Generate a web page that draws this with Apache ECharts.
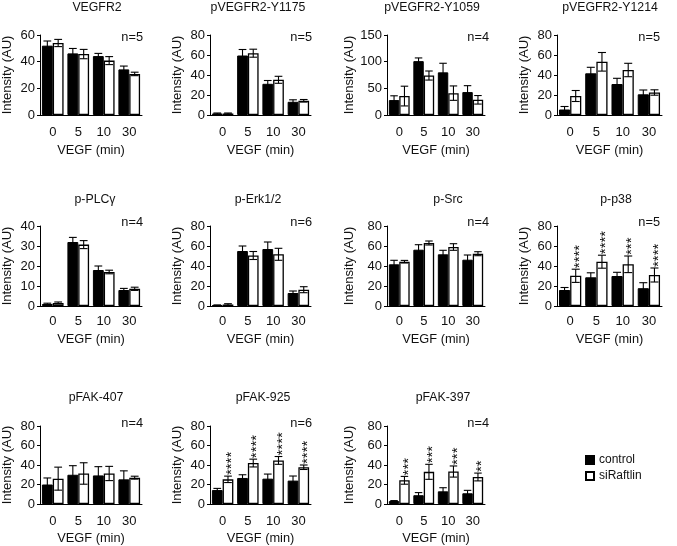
<!DOCTYPE html>
<html>
<head>
<meta charset="utf-8">
<script src="https://cdn.jsdelivr.net/npm/echarts@6/dist/echarts.min.js"></script>
<style>
html,body{margin:0;padding:0;background:#fff;}
#c{width:677px;height:546px;}
</style>
</head>
<body>
<div id="c"></div>
<script>
// ---------- data ----------
const categories = ['0', '5', '10', '30'];
const panelTitles = ['VEGFR2', 'pVEGFR2-Y1175', 'pVEGFR2-Y1059', 'pVEGFR2-Y1214',
  'p-PLCγ', 'p-Erk1/2', 'p-Src', 'p-p38', 'pFAK-407', 'pFAK-925', 'pFAK-397'];
const nLabels = ['n=5', 'n=5', 'n=4', 'n=5', 'n=4', 'n=6', 'n=4', 'n=5', 'n=4', 'n=6', 'n=4'];
const yMax = [60, 80, 150, 80, 40, 80, 80, 80, 80, 80, 80];
const yStep = [20, 20, 50, 20, 10, 20, 20, 20, 20, 20, 20];
const seriesNames = ['control', 'siRaftlin'];
const controlMean = [
  [52, 46.2, 44.2, 34.2],
  [1.5, 59.5, 31.2, 13.2],
  [28, 101, 80, 43],
  [5.5, 41.7, 31, 20.7],
  [1, 32, 18, 8],
  [0.8, 55, 57, 13],
  [41.7, 56.3, 51.7, 46.3],
  [16, 28.7, 30, 17.8],
  [20, 30, 29.3, 25.3],
  [14.3, 26.7, 26, 24],
  [3, 9, 13, 11]
];
const controlErr = [
  [3.5, 3.7, 2, 2.5],
  [0.5, 6, 3.3, 2],
  [8, 6, 17, 12],
  [3, 6, 5.7, 4.3],
  [0.4, 2.3, 2, 0.8],
  [0.3, 5, 7, 2],
  [4, 5, 4, 4.7],
  [2.5, 4.5, 3.7, 5.5],
  [6.7, 9.3, 9, 8.7],
  [1.7, 3.3, 4.7, 4.7],
  [0.5, 2.7, 3.7, 3]
];
const siMean = [
  [54, 45.7, 40.8, 30.8],
  [1.5, 61.8, 35.2, 14.2],
  [35.5, 74, 41, 28.5],
  [19, 53.2, 45, 22.5],
  [1.5, 30.7, 17, 8.6],
  [1.5, 50.5, 51.7, 16.3],
  [44.3, 63, 59, 52.3],
  [30.2, 44.3, 41.7, 31],
  [26, 31.3, 31.3, 27],
  [25.3, 42, 44.7, 37.7],
  [24.3, 33, 33.3, 27.7]
];
const siErr = [
  [2.7, 3.5, 3, 1.3],
  [0.5, 4, 3.5, 1.3],
  [18.5, 8.5, 13.5, 8],
  [5.5, 9.3, 6.7, 2.7],
  [0.5, 2, 0.9, 0.8],
  [0.8, 4, 6, 3],
  [1.3, 2, 3.3, 2],
  [6.6, 6.5, 8.3, 7],
  [11.8, 11, 7.3, 1.5],
  [3.3, 4, 4, 2.3],
  [4, 7.7, 5.7, 4]
];
const siStars = [
  [0, 0, 0, 0], [0, 0, 0, 0], [0, 0, 0, 0], [0, 0, 0, 0],
  [0, 0, 0, 0], [0, 0, 0, 0], [0, 0, 0, 0], [4, 4, 3, 4],
  [0, 0, 0, 0], [4, 4, 4, 4], [3, 3, 3, 2]
];
const xAxisName = 'VEGF (min)';
const yAxisName = 'Intensity (AU)';

// ---------- layout (positions only) ----------
const rowTop = [35, 226, 426];
const rowH = 80;
const colLeft = [40, 210, 387, 557];
const colW = [102, 101, 98, 105];
const titleX = [97, 258, 432, 610, 95, 258, 448, 616, 96, 263, 443];
const titleY = [8, 200, 398];
const nRight = [143, 312, 489, 660];
const nY = [37, 222, 423];
const yNameGap = [26, 26, 31, 26];
const xNameGap = [29, 27, 28];
const xLabelMargin = [11, 9, 11];
const CAT_GAP = 0.15;
const FONT = '"Liberation Sans", Arial, Helvetica, sans-serif';
const TXT = '#111';

const grids = [], xAxes = [], yAxes = [], series = [], graphics = [];

function errRender(side) {
  return function (params, api) {
    const j = api.value(0), m = api.value(1), e = api.value(2);
    const c = api.coord([j, m]);
    const band = api.size([1, 0])[0];
    const bw = band * (1 - CAT_GAP) / 2;
    const x = c[0] + side * bw / 2;
    const yt = api.coord([j, m + e])[1];
    const yb = api.coord([j, Math.max(m - e, 0)])[1];
    const cap = bw * 0.36;
    const st = { stroke: '#000', lineWidth: 1.1 };
    return {
      type: 'group',
      children: [
        { type: 'line', shape: { x1: x, y1: yt, x2: x, y2: yb }, style: st },
        { type: 'line', shape: { x1: x - cap, y1: yt, x2: x + cap, y2: yt }, style: st },
        { type: 'line', shape: { x1: x - cap, y1: yb, x2: x + cap, y2: yb }, style: st }
      ]
    };
  };
}

function starRender(params, api) {
  const j = api.value(0), top = api.value(1), n = api.value(2);
  if (!n) return null;
  const c = api.coord([j, top]);
  const band = api.size([1, 0])[0];
  const bw = band * (1 - CAT_GAP) / 2;
  const x = c[0] + bw / 2;
  return {
    type: 'text',
    x: x + 4,
    y: c[1] - 1,
    rotation: Math.PI / 2,
    style: {
      text: '*'.repeat(n),
      fill: '#111',
      font: '15px ' + FONT,
      textAlign: 'left',
      textVerticalAlign: 'middle'
    }
  };
}

for (let i = 0; i < panelTitles.length; i++) {
  const row = Math.floor(i / 4), col = i % 4;
  grids.push({ left: colLeft[col], top: rowTop[row], width: colW[col], height: rowH, containLabel: false });
  xAxes.push({
    type: 'category', gridIndex: i, data: categories,
    axisLine: { lineStyle: { color: '#000', width: 1 } },
    axisTick: { show: false },
    axisLabel: { color: TXT, fontSize: 13, fontFamily: FONT, margin: xLabelMargin[row] },
    name: xAxisName, nameLocation: 'middle', nameGap: xNameGap[row],
    nameTextStyle: { color: TXT, fontSize: 12.8, fontFamily: FONT }
  });
  yAxes.push({
    type: 'value', gridIndex: i, min: 0, max: yMax[i], interval: yStep[i],
    axisLine: { show: true, lineStyle: { color: '#000', width: 1 } },
    axisTick: { show: true, length: 3, lineStyle: { color: '#000' } },
    splitLine: { show: false },
    axisLabel: { color: TXT, fontSize: 13, fontFamily: FONT, margin: 5 },
    name: yAxisName, nameLocation: 'middle', nameGap: yNameGap[col], nameRotate: 90,
    nameTextStyle: { color: TXT, fontSize: 13, fontFamily: FONT }
  });
  series.push({
    name: seriesNames[0], type: 'bar', xAxisIndex: i, yAxisIndex: i,
    data: controlMean[i], barGap: '0%', barCategoryGap: (CAT_GAP * 100) + '%',
    itemStyle: { color: '#000', borderColor: '#000', borderWidth: 1 },
    emphasis: { disabled: true }, animation: false
  });
  series.push({
    name: seriesNames[1], type: 'bar', xAxisIndex: i, yAxisIndex: i,
    data: siMean[i], barGap: '0%', barCategoryGap: (CAT_GAP * 100) + '%',
    itemStyle: { color: '#fff', borderColor: '#000', borderWidth: 1.3 },
    emphasis: { disabled: true }, animation: false
  });
  series.push({
    name: 'err-c', type: 'custom', xAxisIndex: i, yAxisIndex: i, z: 5,
    renderItem: errRender(-1), animation: false,
    data: controlMean[i].map((m, j) => [j, m, controlErr[i][j]])
  });
  series.push({
    name: 'err-s', type: 'custom', xAxisIndex: i, yAxisIndex: i, z: 5,
    renderItem: errRender(1), animation: false,
    data: siMean[i].map((m, j) => [j, m, siErr[i][j]])
  });
  series.push({
    name: 'stars', type: 'custom', xAxisIndex: i, yAxisIndex: i, z: 5,
    renderItem: starRender, animation: false,
    data: siMean[i].map((m, j) => [j, m + siErr[i][j], siStars[i][j]])
  });
  graphics.push({
    type: 'text', x: titleX[i], y: titleY[row],
    style: { text: panelTitles[i], fill: TXT, font: '12.3px ' + FONT, textAlign: 'center', textVerticalAlign: 'middle' }
  });
  graphics.push({
    type: 'text', x: nRight[col], y: nY[row],
    style: { text: nLabels[i], fill: TXT, font: '12.8px ' + FONT, textAlign: 'right', textVerticalAlign: 'middle' }
  });
}

const chart = echarts.init(document.getElementById('c'), null, { renderer: 'canvas' });
chart.setOption({
  backgroundColor: '#fff',
  animation: false,
  grid: grids,
  xAxis: xAxes,
  yAxis: yAxes,
  series: series,
  graphic: graphics,
  legend: {
    data: seriesNames, orient: 'vertical', left: 580, top: 449,
    itemWidth: 8, itemHeight: 8, itemGap: 4, icon: 'rect',
    textStyle: { color: TXT, fontSize: 12, fontFamily: FONT },
    selectedMode: false
  }
});
</script>
</body>
</html>
